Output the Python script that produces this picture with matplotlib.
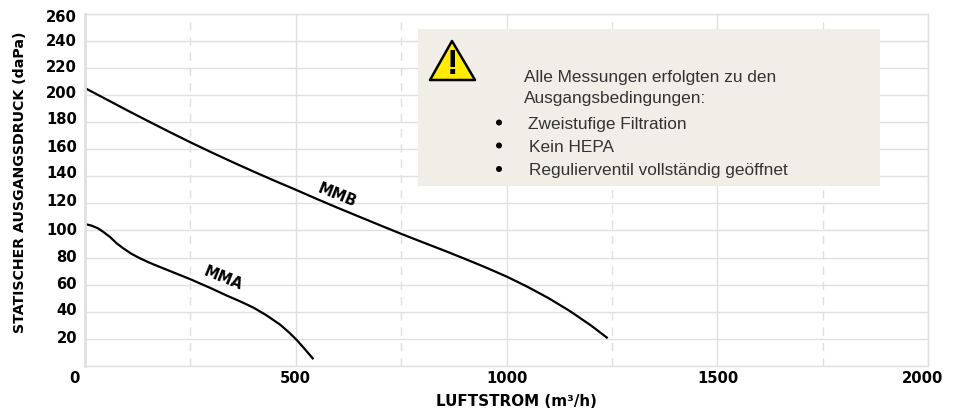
import matplotlib
matplotlib.use("Agg")
import matplotlib.pyplot as plt
from matplotlib.patches import Circle, Polygon, Rectangle

W, H = 960, 410

mmb_x = [0, 50, 100, 150, 200, 250, 300, 350, 400, 450, 500, 550, 600, 650, 700, 750, 800, 850, 900, 950, 1000, 1050, 1100, 1150, 1200, 1240]
mmb_y = [205, 196.8, 188.6, 180.6, 172.7, 165, 157.6, 150.4, 143.4, 136.6, 130, 123.2, 116.6, 110.2, 103.8, 97.5, 91.4, 85.4, 79.2, 72.8, 66, 58.4, 50, 40.6, 30, 20.5]

mma_x = [0, 15, 30, 43, 60, 75, 90, 110, 130, 150, 170, 210, 250, 300, 336, 370, 400, 430, 463, 485, 502, 520, 542]
mma_y = [104.7, 103.6, 101.7, 99, 95, 90.5, 87, 82.8, 79.5, 76.6, 74, 69, 64, 57.2, 52, 47.4, 43, 37.5, 30.5, 24.5, 19.3, 13, 5]

x_major = [0, 500, 1000, 1500, 2000]
x_minor = [250, 750, 1250, 1750]
y_ticks = list(range(20, 261, 20))

bullets = ["Zweistufige Filtration", "Kein HEPA", "Regulierventil vollständig geöffnet"]

fig = plt.figure(figsize=(W / 100, H / 100), dpi=100)
ax = fig.add_axes([85 / W, 1 - 367 / H, (928 - 85) / W, (367 - 14.5) / H])
ax.set_xlim(0, 2000)
ax.set_ylim(0, 260)

grid = "#e0e0e0"
for s in ax.spines.values():
    s.set_color(grid)
    s.set_linewidth(1.0)
ax.spines["left"].set_linewidth(2.0)
ax.set_yticks(y_ticks)
ax.set_xticks(x_major)
ax.tick_params(length=0)
ax.grid(True, color=grid, lw=1.0)
for v in x_minor:
    ax.axvline(v, color=grid, lw=1.0, dashes=(6, 5))
ax.set_axisbelow(True)

ax.set_xticklabels([])
ax.set_yticklabels([])
tick_font = dict(family="DejaVu Sans", weight="bold", fontsize=10.6, color="black")


def fx(x):
    return x / W


def fy(y):
    return 1 - y / H


for v, x in zip(x_major, [74, 295, 506.5, 718, 923]):
    fig.text(fx(x), fy(379), str(v), ha="center", va="center", **tick_font)
for v, y in zip(y_ticks, [339, 311, 285, 257, 231, 202, 174, 148, 119, 94, 68, 42, 17]):
    fig.text(fx(77), fy(y), str(v), ha="right", va="center", **tick_font)

ax.plot(mmb_x, mmb_y, color="black", lw=1.6, solid_capstyle="butt")
ax.plot(mma_x, mma_y, color="black", lw=1.6, solid_capstyle="butt")

fig.text(fx(337.5), fy(195), "MMB", rotation=-22, ha="center", va="center", family="DejaVu Sans", weight="bold", fontsize=10.5)
fig.text(fx(223.5), fy(278), "MMA", rotation=-22, ha="center", va="center", family="DejaVu Sans", weight="bold", fontsize=10.5)

label_font = dict(family="DejaVu Sans", weight="bold", color="black")
fig.text(fx(516.5), fy(402), "LUFTSTROM (m³/h)", ha="center", va="center", fontsize=10.9, **label_font)
fig.text(fx(20), fy(182.5), "STATISCHER AUSGANGSDRUCK (daPa)", rotation=90, ha="center", va="center", fontsize=10.2, **label_font)

# note panel
fig.add_artist(Rectangle((fx(418), fy(187)), 462 / W, 157 / H, transform=fig.transFigure, fc="#f0eee7", ec="none", zorder=3))
tri = [(fx(430), fy(81)), (fx(452), fy(42)), (fx(475), fy(81))]
fig.add_artist(Polygon(tri, closed=True, transform=fig.transFigure, fc="#ffec00", ec="black", lw=1.8, joinstyle="round", zorder=4))
fig.text(fx(452), fy(64.5), "!", ha="center", va="center", family="Liberation Sans", weight="bold", fontsize=25, zorder=5)

note_font = dict(family="Liberation Sans", fontsize=12.4, color="#333333", va="center", zorder=5)
fig.text(fx(524), fy(77.5), "Alle Messungen erfolgten zu den", **note_font)
fig.text(fx(524), fy(99), "Ausgangsbedingungen:", **note_font)
for b, y, x in zip(bullets, [124, 147, 170.5], [528.5, 529, 529]):
    fig.text(fx(x), fy(y), b, **note_font)
for y in [123.5, 146.5, 170]:
    fig.add_artist(Circle((499, H - y), 3, transform=None, fc="black", ec="none", zorder=5))

fig.savefig("out.png", dpi=100)
